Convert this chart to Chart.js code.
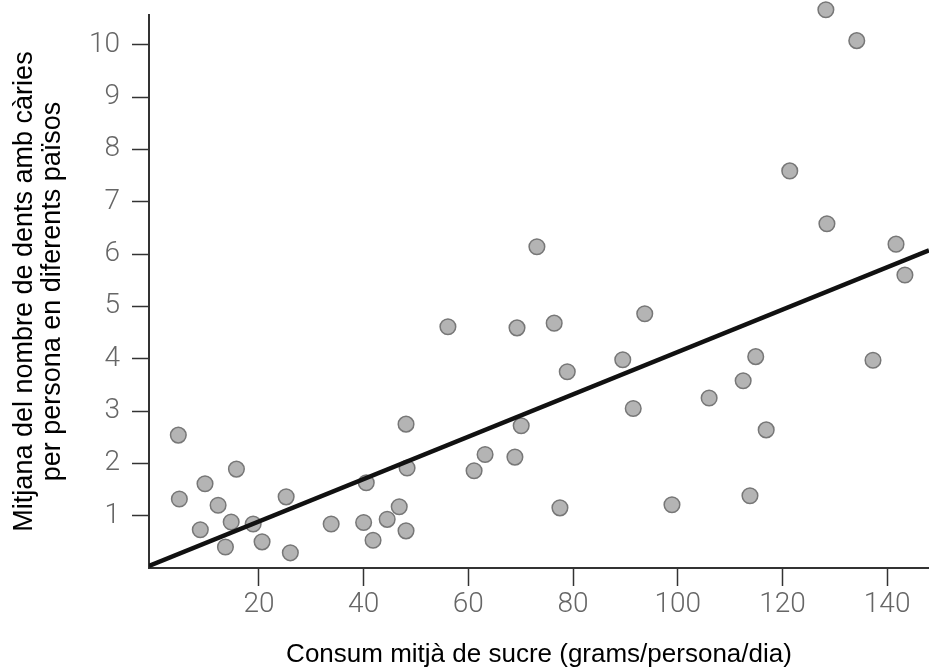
<!DOCTYPE html>
<html>
<head>
<meta charset="utf-8">
<script src="https://cdn.jsdelivr.net/npm/chart.js@4.4.1/dist/chart.umd.min.js"></script>
<style>
  html, body { margin: 0; padding: 0; background: #fff; }
  #wrap { width: 929px; height: 668px; }
</style>
</head>
<body>
<div id="wrap"><canvas id="chart"></canvas></div>
<script>
// sugar consumption (g/person/day) per country
const sugar = [
  4.6, 4.8, 9.7, 8.8, 12.2, 15.7, 14.7, 13.6, 18.9, 20.6,
  25.2, 26.0, 33.8, 40.0, 40.5, 41.8, 44.5, 46.8, 48.1, 48.3,
  48.1, 56.1, 61.1, 63.2, 68.9, 70.1, 69.3, 73.1, 76.4, 77.5,
  78.9, 89.5, 91.5, 93.7, 98.9, 106.0, 112.5, 113.8, 114.9, 116.9,
  121.4, 128.3, 128.5, 134.2, 137.3, 141.7, 143.4
];
// mean number of decayed teeth per person
const teeth = [
  2.54, 1.32, 1.61, 0.73, 1.20, 1.89, 0.88, 0.40, 0.84, 0.50,
  1.36, 0.29, 0.84, 0.87, 1.63, 0.53, 0.93, 1.17, 0.71, 1.91,
  2.75, 4.61, 1.86, 2.17, 2.12, 2.72, 4.59, 6.14, 4.68, 1.15,
  3.75, 3.98, 3.05, 4.86, 1.21, 3.25, 3.58, 1.38, 4.04, 2.64,
  7.59, 10.67, 6.58, 10.08, 3.97, 6.19, 5.60
];
// fitted trend line end points
const trendX = [-1, 148];
const trendY = [0.04, 6.07];

const xTicks = [20, 40, 60, 80, 100, 120, 140];
const yTicks = [1, 2, 3, 4, 5, 6, 7, 8, 9, 10];

const yTitle = ['Mitjana del nombre de dents amb càries', 'per persona en diferents països'];
const xTitle = 'Consum mitjà de sucre (grams/persona/dia)';

const points = sugar.map((x, i) => ({ x: x, y: teeth[i] }));
const trend = trendX.map((x, i) => ({ x: x, y: trendY[i] }));

const tickFont = { family: 'Roboto, "Open Sans", sans-serif', size: 28, weight: '300' };

// drop the extra room chart.js keeps for edge tick labels
function noEdgePadding(s) {
  s.paddingTop = 0;
  s.paddingBottom = 0;
  s.paddingLeft = 0;
  s.paddingRight = 0;
}

new Chart(document.getElementById('chart'), {
  type: 'scatter',
  data: {
    datasets: [
      {
        label: 'trend',
        type: 'line',
        data: trend,
        borderColor: '#111',
        borderWidth: 4.5,
        pointRadius: 0,
        fill: false,
        order: 0
      },
      {
        label: 'countries',
        data: points,
        backgroundColor: '#b4b4b4',
        borderColor: '#777',
        borderWidth: 1.5,
        pointRadius: 7.8,
        clip: false,
        order: 1
      }
    ]
  },
  options: {
    responsive: true,
    maintainAspectRatio: false,
    animation: false,
    layout: { autoPadding: false, padding: { top: 15, right: 0, left: 0, bottom: 0 } },
    plugins: {
      legend: { display: false },
      tooltip: { enabled: false }
    },
    scales: {
      x: {
        type: 'linear',
        min: -1,
        max: 148,
        afterBuildTicks: (s) => { s.ticks = xTicks.map(v => ({ value: v })); },
        afterFit: (s) => { s.height = 100; noEdgePadding(s); },
        border: { color: '#333', width: 2 },
        grid: { drawOnChartArea: false, tickLength: 18, tickColor: '#333', tickWidth: 1.5 },
        ticks: { font: tickFont, color: '#666', padding: 2, maxRotation: 0 },
        title: {
          display: true,
          text: xTitle,
          color: '#000',
          font: { family: '"Liberation Sans", Arial, sans-serif', size: 26, lineHeight: 1 },
          padding: { top: 0, bottom: 0 }
        }
      },
      y: {
        type: 'linear',
        min: 0,
        max: 10.57,
        afterBuildTicks: (s) => { s.ticks = yTicks.map(v => ({ value: v })); },
        afterFit: (s) => { s.width = 149; noEdgePadding(s); },
        border: { color: '#333', width: 2 },
        grid: { drawOnChartArea: false, tickLength: 17, tickColor: '#333', tickWidth: 1.5 },
        ticks: { font: tickFont, color: '#666', padding: 12 },
        title: {
          display: true,
          text: yTitle,
          color: '#000',
          font: { family: '"Liberation Sans", Arial, sans-serif', size: 27, lineHeight: 1.05 },
          padding: { top: 10, bottom: 0 }
        }
      }
    }
  }
});
</script>
</body>
</html>
